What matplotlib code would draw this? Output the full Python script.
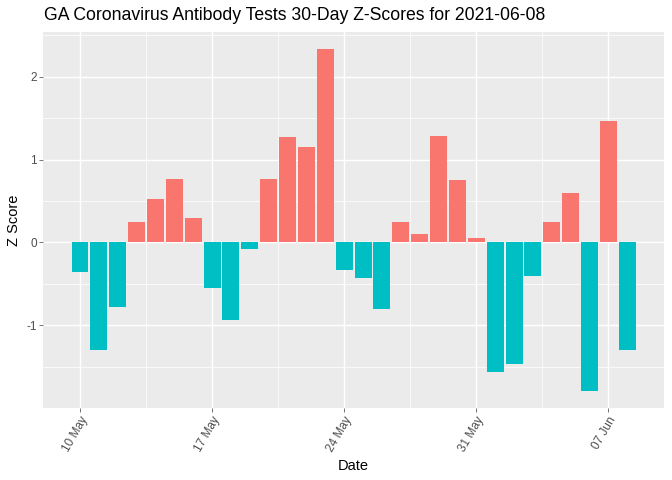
import matplotlib
matplotlib.use("Agg")
import matplotlib.pyplot as plt
import matplotlib.dates as mdates
import numpy as np
import pandas as pd

dates = pd.date_range("2021-05-10", "2021-06-08", freq="D")
zscores = [-0.36, -1.30, -0.78, 0.24, 0.52, 0.76, 0.30, -0.55, -0.94, -0.08,
           0.77, 1.27, 1.15, 2.33, -0.33, -0.43, -0.80, 0.24, 0.10, 1.29,
           0.75, 0.05, -1.56, -1.47, -0.41, 0.25, 0.59, -1.79, 1.47, -1.30]
title = "GA Coronavirus Antibody Tests 30-Day Z-Scores for 2021-06-08"
tick_dates = pd.to_datetime(["2021-05-10", "2021-05-17", "2021-05-24", "2021-05-31", "2021-06-07"])
tick_labels = ["10 May", "17 May", "24 May", "31 May", "07 Jun"]

plt.rcParams['font.family'] = ['Liberation Sans', 'DejaVu Sans']

fig = plt.figure(figsize=(7, 5), dpi=96)
ax = fig.add_axes([43.3/672, 1-407.7/480, (664-43.3)/672, (407.7-32.3)/480])
ax.set_facecolor("#EBEBEB")

x = mdates.date2num(dates)
vals = np.array(zscores)
colors = ["#F8766D" if v > 0 else "#00BFC4" for v in vals]
ax.bar(x, vals, width=0.9, color=colors, zorder=3)

# limits with ggplot-like expansion
xmin, xmax = x[0]-0.45, x[-1]+0.45
xr = xmax - xmin
ax.set_xlim(xmin - 0.05*xr, xmax + 0.05*xr)
ymin, ymax = vals.min(), vals.max()
yr = ymax - ymin
ax.set_ylim(ymin - 0.05*yr, ymax + 0.05*yr)

tx = mdates.date2num(tick_dates)
ax.set_xticks(tx)
ax.set_xticklabels(tick_labels, rotation=60, ha="right", va="top",
                   rotation_mode="anchor", fontsize=8.8, color="#4D4D4D")
ax.set_xticks((tx[:-1] + tx[1:]) / 2, minor=True)
ax.set_yticks([-1, 0, 1, 2])
ax.set_yticklabels(["-1", "0", "1", "2"], fontsize=8.8, color="#4D4D4D")
ax.set_yticks([-1.5, -0.5, 0.5, 1.5, 2.5], minor=True)

ax.grid(which="major", color="white", linewidth=1.07, zorder=0)
ax.grid(which="minor", color="white", linewidth=0.53, zorder=0)
ax.set_axisbelow(True)
ax.tick_params(which="major", length=2.75, width=0.5, color="#333333", pad=2.2)
ax.tick_params(which="minor", length=0)
for s in ax.spines.values():
    s.set_visible(False)

ax.set_xlabel("Date", fontsize=11, color="black", labelpad=4)
ax.set_ylabel("Z Score", fontsize=11, color="black", labelpad=4)
fig.text(43.5/672, 1-16/480, title, fontsize=13.2, ha="left", va="center", color="black")

fig.savefig("out.png", dpi=96)
